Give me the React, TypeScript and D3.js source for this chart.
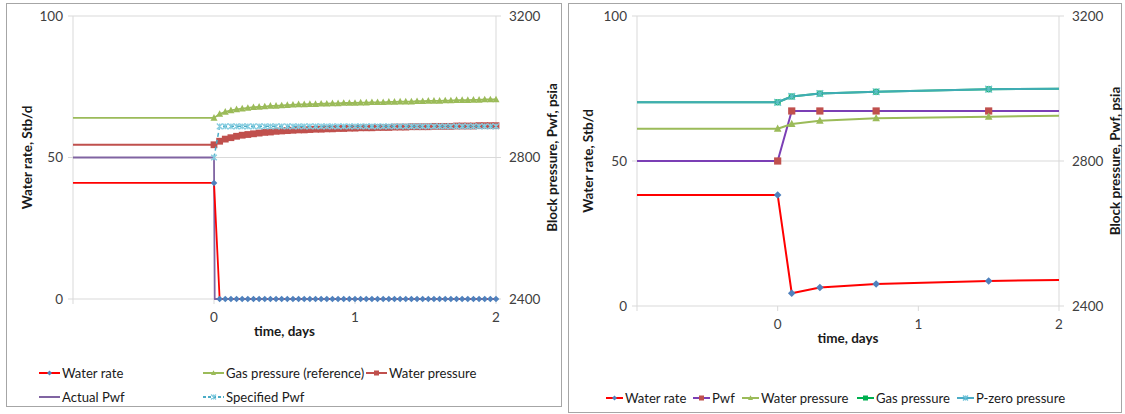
import React from 'react';
import * as d3 from 'd3';

// ---------- left chart data ----------
const leftTimes = [-1, 0, 0.04, 0.08, 0.12, 0.16, 0.2, 0.24, 0.28, 0.32, 0.36, 0.4, 0.44, 0.48, 0.52, 0.56,
  0.6, 0.64, 0.68, 0.72, 0.76, 0.8, 0.84, 0.88, 0.92, 0.96, 1, 1.04, 1.08, 1.12, 1.16, 1.2, 1.24, 1.28,
  1.32, 1.36, 1.4, 1.44, 1.48, 1.52, 1.56, 1.6, 1.64, 1.68, 1.72, 1.76, 1.8, 1.84, 1.88, 1.92, 1.96, 2];
const leftWaterRate = [41, 41, 0, 0, 0, 0, 0, 0, 0, 0, 0, 0, 0, 0, 0, 0, 0, 0, 0, 0, 0, 0, 0, 0, 0, 0, 0,
  0, 0, 0, 0, 0, 0, 0, 0, 0, 0, 0, 0, 0, 0, 0, 0, 0, 0, 0, 0, 0, 0, 0, 0, 0];
const leftGasRef = [2912, 2912, 2923, 2929, 2933, 2936, 2938, 2940, 2942, 2943, 2944, 2946, 2946, 2947,
  2948, 2949, 2950, 2950, 2951, 2951, 2952, 2952, 2953, 2953, 2954, 2954, 2954, 2955, 2955, 2956, 2956,
  2956, 2957, 2957, 2958, 2958, 2958, 2959, 2959, 2960, 2960, 2960, 2961, 2961, 2962, 2962, 2962, 2963,
  2963, 2964, 2964, 2964];
const leftWaterPressure = [2836, 2836, 2846, 2852, 2856, 2860, 2863, 2865, 2867, 2869, 2871, 2872, 2874,
  2875, 2876, 2877, 2878, 2878, 2879, 2880, 2880, 2881, 2881, 2882, 2882, 2883, 2883, 2884, 2884, 2884,
  2885, 2885, 2885, 2886, 2886, 2886, 2887, 2887, 2887, 2887, 2888, 2888, 2888, 2888, 2889, 2889, 2889,
  2889, 2890, 2890, 2890, 2890];
const leftSpecifiedPwf = [null, 2800, 2888, 2888, 2888, 2888, 2888, 2888, 2888, 2888, 2888, 2888, 2888,
  2888, 2888, 2888, 2888, 2888, 2888, 2888, 2888, 2888, 2888, 2888, 2888, 2888, 2888, 2888, 2888, 2888,
  2888, 2888, 2888, 2888, 2888, 2888, 2888, 2888, 2888, 2888, 2888, 2888, 2888, 2888, 2888, 2888, 2888,
  2888, 2888, 2888, 2888, 2888];
const actualPwfTimes = [-1, 0, 0.005, 2];
const actualPwf = [2800, 2800, 2400, 2400];

// ---------- right chart data ----------
const rightTimes = [-1, 0, 0.1, 0.3, 0.7, 1.5, 2];
const rightWaterRate = [38.3, 38.3, 4.4, 6.4, 7.6, 8.6, 9.0];
const rightPwf = [2800, 2800, 2938, 2938, 2938, 2938, 2938];
const rightWaterPressure = [2889, 2889, 2902, 2911, 2918, 2922, 2925];
const rightGasPressure = [2962, 2962, 2978, 2986, 2991, 2998, 2999];
const rightPZero = [2962, 2962, 2978, 2986, 2991, 2998, 2999];

const rateTicks = [0, 50, 100];
const pressureTicks = [2400, 2800, 3200];
const timeTicks = [0, 1, 2];
const tickMarks = [-1, 0, 1, 2];

const FONT = "Lato, 'Open Sans', sans-serif";

type Series = {
  name: string;
  times: number[];
  values: (number | null)[];
  axis: 'left' | 'right';
  color: string;
  width: number;
  dash?: string;
  opacity?: number;
  marker?: 'diamond' | 'square' | 'triangle' | 'star';
  markerColor?: string;
  r?: number;
  markerFrom?: number;
  markerTo?: number;
};

function Marker({ kind, x, y, r, color }: { kind: string; x: number; y: number; r: number; color: string }) {
  if (kind === 'diamond') return <path d={`M${x},${y - r}L${x + r},${y}L${x},${y + r}L${x - r},${y}Z`} fill={color} />;
  if (kind === 'square') return <rect x={x - r} y={y - r} width={2 * r} height={2 * r} fill={color} />;
  if (kind === 'triangle') return <path d={`M${x},${y - r * 1.1}L${x + r},${y + r * 0.8}L${x - r},${y + r * 0.8}Z`} fill={color} />;
  // star (asterisk)
  return (
    <path d={`M${x - r},${y - r}L${x + r},${y + r}M${x - r},${y + r}L${x + r},${y - r}M${x},${y - r}L${x},${y + r}`}
      stroke={color} strokeWidth={1.3} fill="none" />
  );
}

type PanelProps = {
  box: { x: number; y: number; w: number; h: number };
  plot: { l: number; r: number; t: number; b: number };
  series: Series[];
  legend: { s: Series; x: number; y: number; icon: number }[];
  titleLeftX: number;
  titleRightX: number;
};

function Panel({ box, plot, series, legend, titleLeftX, titleRightX }: PanelProps) {
  const x = d3.scaleLinear().domain([-1, 2]).range([plot.l, plot.r]);
  const yL = d3.scaleLinear().domain([0, 100]).range([plot.b, plot.t]);
  const yR = d3.scaleLinear().domain([2400, 3200]).range([plot.b, plot.t]);
  const midY = (plot.t + plot.b) / 2;

  return (
    <g>
      <rect x={box.x + 0.5} y={box.y + 0.5} width={box.w} height={box.h} fill="#fff" stroke="#A6A6A6" />
      {rateTicks.map((t) => (
        <line key={'g' + t} x1={plot.l} x2={plot.r} y1={yL(t)} y2={yL(t)} stroke="#D9D9D9" />
      ))}
      <line x1={plot.l} x2={plot.l} y1={plot.t} y2={plot.b} stroke="#D9D9D9" />
      <line x1={plot.r} x2={plot.r} y1={plot.t} y2={plot.b} stroke="#D9D9D9" />
      {rateTicks.map((t) => (
        <g key={'l' + t}>
          <line x1={plot.l - 5} x2={plot.l} y1={yL(t)} y2={yL(t)} stroke="#D9D9D9" />
          <text x={plot.l - 10} y={yL(t)} dy="0.35em" textAnchor="end" fontSize={13.5} fill="#404040">{t}</text>
        </g>
      ))}
      {pressureTicks.map((t) => (
        <g key={'r' + t}>
          <line x1={plot.r} x2={plot.r + 5} y1={yR(t)} y2={yR(t)} stroke="#D9D9D9" />
          <text x={plot.r + 13} y={yR(t)} dy="0.35em" textAnchor="start" fontSize={13.5} fill="#404040">{t}</text>
        </g>
      ))}
      {tickMarks.map((t) => (
        <line key={'t' + t} x1={x(t)} x2={x(t)} y1={plot.b} y2={plot.b + 5} stroke="#D9D9D9" />
      ))}
      {timeTicks.map((t) => (
        <text key={'x' + t} x={x(t)} y={plot.b + 18} dy="0.35em" textAnchor="middle" fontSize={13.5} fill="#404040">{t}</text>
      ))}
      <text x={(plot.l + plot.r) / 2} y={plot.b + 32} dy="0.35em" textAnchor="middle" fontSize={13.5} fontWeight="bold" fill="#1a1a1a">time, days</text>
      <text transform={`translate(${titleLeftX},${midY}) rotate(-90)`} dy="0.35em" textAnchor="middle" fontSize={13.5} fontWeight="bold" fill="#1a1a1a">Water rate, Stb/d</text>
      <text transform={`translate(${titleRightX},${midY}) rotate(-90)`} dy="0.35em" textAnchor="middle" fontSize={13.5} fontWeight="bold" fill="#1a1a1a">Block pressure, Pwf, psia</text>

      {series.map((s) => {
        const y = s.axis === 'left' ? yL : yR;
        const pts = s.times.map((t, i) => [t, s.values[i]] as [number, number | null]);
        const line = d3.line<[number, number | null]>()
          .defined((d) => d[1] != null)
          .x((d) => x(d[0]))
          .y((d) => y(d[1] as number));
        const from = s.markerFrom ?? 0;
        const to = s.markerTo ?? 2;
        return (
          <g key={s.name} opacity={s.opacity ?? 1}>
            <path d={line(pts) || ''} fill="none" stroke={s.color} strokeWidth={s.width} strokeDasharray={s.dash} strokeLinejoin="round" />
            {s.marker && pts.filter((d) => d[1] != null && d[0] >= from && d[0] <= to).map((d, i) => (
              <Marker key={i} kind={s.marker as string} x={x(d[0])} y={y(d[1] as number)} r={s.r ?? 3} color={s.markerColor ?? s.color} />
            ))}
          </g>
        );
      })}

      {legend.map(({ s, x: lx, y: ly, icon }) => (
        <g key={'lg' + s.name}>
          <line x1={lx} x2={lx + icon} y1={ly} y2={ly} stroke={s.color} strokeWidth={2} strokeDasharray={s.dash ? '3,2' : undefined} />
          {s.marker && <Marker kind={s.marker} x={lx + icon / 2} y={ly} r={2.5} color={s.markerColor ?? s.color} />}
          <text x={lx + icon + 2} y={ly} dy="0.35em" fontSize={13.1} fill="#1a1a1a">{s.name}</text>
        </g>
      ))}
    </g>
  );
}

export default function App() {
  const lWater: Series = { name: 'Water rate', times: leftTimes, values: leftWaterRate, axis: 'left', color: '#FF0000', width: 1.8, marker: 'diamond', markerColor: '#4F81BD', r: 3.3 };
  const lGas: Series = { name: 'Gas pressure (reference)', times: leftTimes, values: leftGasRef, axis: 'right', color: '#9BBB59', width: 1.8, marker: 'triangle', r: 3.5 };
  const lWp: Series = { name: 'Water pressure', times: leftTimes, values: leftWaterPressure, axis: 'right', color: '#C0504D', width: 1.8, marker: 'square', r: 3.4 };
  const lAct: Series = { name: 'Actual Pwf', times: actualPwfTimes, values: actualPwf, axis: 'right', color: '#8064A2', width: 1.8 };
  const lSpec: Series = { name: 'Specified Pwf', times: leftTimes, values: leftSpecifiedPwf, axis: 'right', color: '#4BACC6', width: 1.5, dash: '4,3', marker: 'star', markerColor: '#86CDE0', r: 2.8 };

  const rWater: Series = { name: 'Water rate', times: rightTimes, values: rightWaterRate, axis: 'left', color: '#FF0000', width: 2, marker: 'diamond', markerColor: '#4F81BD', r: 3.8, markerTo: 1.5 };
  const rPwf: Series = { name: 'Pwf', times: rightTimes, values: rightPwf, axis: 'right', color: '#7B3FB5', width: 2, marker: 'square', markerColor: '#C0504D', r: 3.6, markerTo: 1.5 };
  const rWp: Series = { name: 'Water pressure', times: rightTimes, values: rightWaterPressure, axis: 'right', color: '#9BBB59', width: 2, marker: 'triangle', r: 3.8, markerTo: 1.5 };
  const rGas: Series = { name: 'Gas pressure', times: rightTimes, values: rightGasPressure, axis: 'right', color: '#00B050', width: 2, marker: 'square', r: 3, markerTo: 1.5 };
  const rPz: Series = { name: 'P-zero pressure', times: rightTimes, values: rightPZero, axis: 'right', color: '#4BACC6', width: 2, marker: 'star', markerColor: '#6FC3D9', r: 3.4, markerTo: 1.5, opacity: 0.85 };

  return (
    <svg width={1125} height={414} style={{ position: 'absolute', left: 0, top: 0, fontFamily: FONT }}>
      <rect width={1125} height={414} fill="#fff" />
      <Panel
        box={{ x: 6, y: 3, w: 555, h: 403 }}
        plot={{ l: 73, r: 496, t: 16, b: 299 }}
        // actual Pwf goes underneath so the water-rate markers stay on top
        series={[lAct, lWater, lGas, lWp, lSpec]}
        legend={[
          { s: lWater, x: 39, y: 373, icon: 21 },
          { s: lGas, x: 203, y: 373, icon: 21 },
          { s: lWp, x: 366, y: 373, icon: 21 },
          { s: lAct, x: 39, y: 397, icon: 21 },
          { s: lSpec, x: 203, y: 397, icon: 21 },
        ]}
        titleLeftX={27}
        titleRightX={552}
      />
      <Panel
        box={{ x: 568, y: 3, w: 553, h: 409 }}
        plot={{ l: 637, r: 1059, t: 16, b: 306 }}
        series={[rWater, rPwf, rWp, rGas, rPz]}
        legend={[
          { s: rWater, x: 606, y: 398, icon: 17 },
          { s: rPwf, x: 693, y: 398, icon: 17 },
          { s: rWp, x: 742, y: 398, icon: 17 },
          { s: rGas, x: 857, y: 398, icon: 17 },
          { s: rPz, x: 957, y: 398, icon: 17 },
        ]}
        titleLeftX={588}
        titleRightX={1115}
      />
    </svg>
  );
}
